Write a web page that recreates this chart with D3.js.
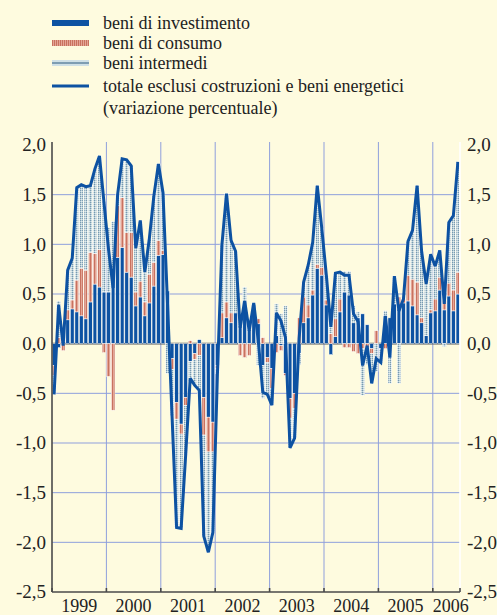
<!DOCTYPE html>
<html><head><meta charset="utf-8">
<script src="https://cdn.jsdelivr.net/npm/d3@7"></script>
<style>html,body{margin:0;padding:0;background:#fefbdf;}svg{display:block}</style>
</head><body><svg id="c" width="497" height="615"></svg>
<script>
// ---- data (monthly, Jan 1999 - Jun 2006) ----
const years = ["1999","2000","2001","2002","2003","2004","2005","2006"];
const investimento = [
 -0.22,-0.04,0.02,0.24,0.35,0.32,0.28,0.25,0.42,0.60,0.57,0.52,
 0.52,0.76,0.87,0.97,0.72,0.67,0.38,0.47,0.28,0.41,0.58,0.89,
 0.90,0.53,-0.15,-0.59,-0.81,-0.54,-0.18,-0.10,0.04,-0.54,-0.74,-0.79,
 -0.22,0.06,0.26,0.21,0.31,0.18,0.43,0.14,0.39,0.20,-0.22,-0.14,
 -0.25,0.08,-0.02,-0.30,-0.55,-0.50,-0.10,0.21,0.26,0.49,0.76,0.69,
 0.39,-0.11,0.07,0.32,0.52,0.49,0.21,0.26,0.30,0.19,-0.05,0.00,
 -0.05,0.28,0.26,0.40,0.35,0.41,0.43,0.38,0.29,0.21,0.08,0.31,
 0.33,0.54,0.34,0.48,0.33,0.50];
const consumo = [
 -0.10,0.06,-0.07,0.10,0.09,0.32,0.48,0.49,0.50,0.31,0.38,-0.09,
 -0.33,-0.67,0.52,0.50,0.40,0.45,0.14,0.16,0.14,0.29,0.24,0.15,
 0.04,0.00,-0.11,-0.17,-0.10,-0.08,0.03,-0.06,-0.12,-0.38,-0.35,-0.30,
 -0.03,0.25,0.16,0.10,0.00,-0.12,-0.14,-0.12,0.00,0.05,0.06,-0.05,
 -0.20,-0.09,-0.05,-0.02,-0.20,-0.15,0.26,0.26,0.13,0.05,0.04,0.08,
 0.05,0.10,0.18,0.13,-0.04,-0.04,-0.08,-0.10,-0.05,-0.04,-0.05,0.13,
 0.00,-0.05,0.00,0.00,0.12,0.04,0.26,0.27,0.33,0.05,0.00,0.03,
 0.12,0.13,0.09,0.13,0.21,0.22];
const intermedi = [
 -0.19,0.37,0.03,0.40,0.42,0.93,0.84,0.84,0.67,0.85,0.94,0.92,
 0.65,0.47,0.11,0.39,0.73,0.67,0.44,0.61,0.30,0.36,0.67,0.77,
 0.58,-0.30,-0.47,-1.09,-0.95,-0.50,-0.20,-0.26,-0.39,-1.02,-1.01,-0.81,
 -0.05,0.69,1.09,0.73,0.62,0.10,0.14,0.11,0.02,-0.22,-0.33,-0.32,
 -0.17,0.32,0.30,0.38,-0.30,-0.30,-0.11,0.15,0.40,0.48,0.79,0.39,
 0.25,0.18,0.46,0.27,0.21,0.24,0.17,0.06,-0.47,-0.17,-0.30,-0.28,
 -0.14,0.05,-0.40,0.28,-0.40,0.00,0.34,0.49,0.97,0.67,0.52,0.56,
 0.33,0.27,-0.03,0.61,0.75,1.11];
const totale = [
 -0.51,0.39,-0.02,0.74,0.86,1.57,1.60,1.58,1.59,1.76,1.89,1.42,
 0.95,0.56,1.50,1.86,1.85,1.79,0.96,1.24,0.72,1.06,1.49,1.81,
 1.52,0.40,-0.73,-1.85,-1.86,-1.12,-0.35,-0.42,-0.47,-1.94,-2.10,-1.90,
 -0.30,1.00,1.51,1.04,0.93,0.16,0.43,0.13,0.41,0.03,-0.49,-0.51,
 -0.62,0.31,0.23,0.06,-1.05,-0.95,0.05,0.62,0.79,1.02,1.59,1.16,
 0.69,0.17,0.71,0.72,0.69,0.69,0.30,0.22,-0.22,-0.02,-0.40,-0.15,
 -0.19,0.28,-0.14,0.68,0.33,0.45,1.03,1.14,1.59,0.93,0.60,0.90,
 0.78,0.94,0.40,1.22,1.29,1.83];
const yTicks = [-2.5,-2.0,-1.5,-1.0,-0.5,0.0,0.5,1.0,1.5,2.0];
const legendLabels = ["beni di investimento","beni di consumo","beni intermedi",
  "totale esclusi costruzioni e beni energetici","(variazione percentuale)"];

// ---- layout ----
const W = 497, H = 615;
const L = 52, R = 460, T = 145, B = 592;
const n = totale.length;
const BG = "#fefbdf", BLUE = "#0d52a2", GRID = "#8f9fdc", AXIS = "#4a4a4a";
const FONT = "'Liberation Serif','Times New Roman',serif";

const svg = d3.select("#c");
svg.append("rect").attr("width", W).attr("height", H).attr("fill", BG);

const defs = svg.append("defs");
const pc = defs.append("pattern").attr("id","consPat").attr("patternUnits","userSpaceOnUse")
  .attr("width",2).attr("height",4);
pc.append("rect").attr("width",2).attr("height",4).attr("fill","#e4a596");
pc.append("rect").attr("width",1).attr("height",4).attr("fill","#c8725f");
const pi = defs.append("pattern").attr("id","intPat").attr("patternUnits","userSpaceOnUse")
  .attr("width",2).attr("height",2);
pi.append("rect").attr("width",2).attr("height",2).attr("fill","#b9cfd8");
pi.append("rect").attr("width",1).attr("height",1).attr("fill","#7899b0");
pi.append("rect").attr("x",1).attr("y",1).attr("width",1).attr("height",1).attr("fill","#e2ecec");

const x = d3.scaleBand().domain(d3.range(n)).range([L, R]).paddingInner(0.18).paddingOuter(0.05);
const xm = d3.scaleLinear().domain([0, n]).range([L, R]); // month index -> x
const y = d3.scaleLinear().domain([-2.5, 2.0]).range([B, T]);
const fmt = d3.formatLocale({decimal:",",thousands:".",grouping:[3],currency:["",""],minus:"-"}).format(".1f");

// grid
const g = svg.append("g");
g.selectAll("line.h").data(yTicks.filter(v => v !== 0 && v !== -2.5 && v !== 2.0)).join("line")
  .attr("x1", L).attr("x2", R).attr("y1", d => y(d)).attr("y2", d => y(d))
  .attr("stroke", GRID).attr("stroke-width", 1);
const yearStarts = years.map((d, i) => i * 12);
g.selectAll("line.v").data(yearStarts.slice(1)).join("line")
  .attr("x1", d => xm(d)).attr("x2", d => xm(d)).attr("y1", T - 3).attr("y2", B)
  .attr("stroke", GRID).attr("stroke-width", 1);
// zero line
g.append("line").attr("x1", L).attr("x2", R).attr("y1", y(0)).attr("y2", y(0))
  .attr("stroke", "#5a5a5a").attr("stroke-width", 1.6);

// stacked bars
const rows = d3.range(n).map(i => ({i, inv: investimento[i], cons: consumo[i], int: intermedi[i]}));
const stack = d3.stack().keys(["inv","cons","int"]).offset(d3.stackOffsetDiverging);
const series = stack(rows);
const fills = {inv: BLUE, cons: "url(#consPat)", int: "url(#intPat)"};
svg.append("g").selectAll("g").data(series).join("g")
  .attr("fill", d => fills[d.key])
  .selectAll("rect").data(d => d).join("rect")
  .attr("x", d => x(d.data.i)).attr("width", x.bandwidth())
  .attr("y", d => y(Math.max(d[0], d[1])))
  .attr("height", d => Math.abs(y(d[0]) - y(d[1])))
  .attr("stroke", "#ffffff").attr("stroke-width", 0.5);

// total line
const line = d3.line().x((d, i) => x(i) + x.bandwidth() / 2).y(d => y(d));
svg.append("path").datum(totale).attr("d", line).attr("fill", "none")
  .attr("stroke", BLUE).attr("stroke-width", 3).attr("stroke-linejoin", "miter").attr("stroke-miterlimit", 3);

// axes frame
svg.append("line").attr("x1", L).attr("x2", L).attr("y1", T - 3).attr("y2", B).attr("stroke", AXIS).attr("stroke-width", 1.6);
svg.append("line").attr("x1", R).attr("x2", R).attr("y1", T - 3).attr("y2", B).attr("stroke", "#ffffff").attr("stroke-width", 1.6);
svg.append("line").attr("x1", L).attr("x2", R).attr("y1", B).attr("y2", B).attr("stroke", AXIS).attr("stroke-width", 1.6);
svg.append("g").selectAll("line").data(yearStarts.concat([n])).join("line")
  .attr("x1", d => xm(d)).attr("x2", d => xm(d)).attr("y1", B).attr("y2", B - 4)
  .attr("stroke", AXIS).attr("stroke-width", 1.6);

// y labels
const yl = svg.append("g").attr("font-family", FONT).attr("font-size", 19).attr("fill", "#222");
yl.selectAll("text.l").data(yTicks).join("text").attr("x", 46).attr("y", d => y(d)).attr("dy", "0.33em")
  .attr("text-anchor", "end").text(d => fmt(d));
yl.selectAll("text.r").data(yTicks).join("text").attr("x", 467).attr("y", d => y(d)).attr("dy", "0.33em")
  .attr("text-anchor", "start").text(d => fmt(d));

// x labels
svg.append("g").attr("font-family", FONT).attr("font-size", 18).attr("fill", "#222")
  .selectAll("text").data(years).join("text")
  .attr("x", (d, i) => i < years.length - 1 ? (xm(i * 12) + xm(i * 12 + 12)) / 2 : xm(i * 12) + 18)
  .attr("y", 612).attr("text-anchor", "middle").text(d => d);

// legend
const lg = svg.append("g").attr("font-family", FONT).attr("font-size", 18).attr("fill", "#222");
const ly = [23, 43, 63, 86, 108];
lg.append("rect").attr("x", 52).attr("y", ly[0] - 3).attr("width", 37).attr("height", 6).attr("fill", BLUE);
lg.append("rect").attr("x", 52).attr("y", ly[1] - 3).attr("width", 37).attr("height", 6).attr("fill", "url(#consPat)");
lg.append("rect").attr("x", 52).attr("y", ly[2] - 3).attr("width", 37).attr("height", 6).attr("fill", "#cfe0e6");
lg.append("rect").attr("x", 52).attr("y", ly[2] - 1).attr("width", 37).attr("height", 2).attr("fill", "#7e9db2");
lg.append("line").attr("x1", 52).attr("x2", 89).attr("y1", ly[3]).attr("y2", ly[3]).attr("stroke", BLUE).attr("stroke-width", 2.8);
lg.selectAll("text").data(legendLabels).join("text")
  .attr("x", 103).attr("y", (d, i) => ly[i]).attr("dy", "0.33em").text(d => d);
</script></body></html>
